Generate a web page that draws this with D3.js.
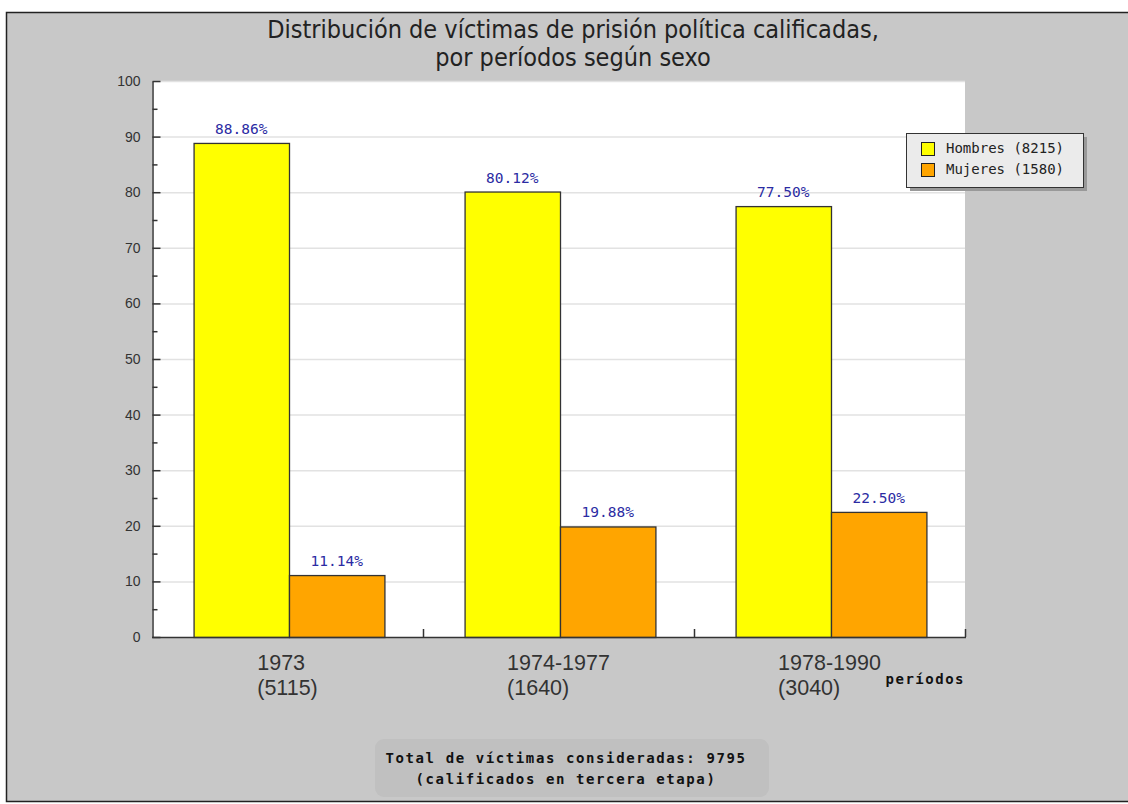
<!DOCTYPE html>
<html>
<head>
<meta charset="utf-8">
<script src="https://cdn.jsdelivr.net/npm/d3@7"></script>
<style>
  body { margin: 0; background: #fff; }
  svg { display: block; }
</style>
</head>
<body>
<div id="chart"></div>
<script>
// data
var periodos = ["1973", "1974-1977", "1978-1990"];
var totales = ["(5115)", "(1640)", "(3040)"];
var series = ["Hombres", "Mujeres"];
var leyenda = ["Hombres (8215)", "Mujeres (1580)"];
var hombres = [88.86, 80.12, 77.50];
var mujeres = [11.14, 19.88, 22.50];
var yTicks = [0, 10, 20, 30, 40, 50, 60, 70, 80, 90, 100];
var yMinor = [5, 15, 25, 35, 45, 55, 65, 75, 85, 95];

var W = 1128, H = 804;
var plot = { left: 152, right: 965, top: 81, bottom: 637 };
var colors = { Hombres: "#ffff00", Mujeres: "#ffa500" };
var mono = "'DejaVu Sans Mono', monospace";

var svg = d3.select("#chart").append("svg")
    .attr("width", W)
    .attr("height", H);

// outer frame
svg.append("rect")
    .attr("x", 6.5).attr("y", 12.5)
    .attr("width", 1200).attr("height", 789)
    .style("fill", "#c8c8c8")
    .style("stroke", "#222")
    .style("stroke-width", 1.5);

// title
var title = svg.append("text")
    .attr("text-anchor", "middle")
    .style("font-family", "'DejaVu Sans Condensed', 'DejaVu Sans', sans-serif")
    .style("font-size", "25px")
    .style("fill", "#222");
title.append("tspan").attr("x", 573).attr("y", 38)
    .text("Distribución de víctimas de prisión política calificadas,");
title.append("tspan").attr("x", 573).attr("y", 66)
    .text("por períodos según sexo");

// scales
var x = d3.scaleBand()
    .domain(periodos)
    .range([plot.left, plot.right])
    .paddingInner(0).paddingOuter(0);

var xs = d3.scaleBand()
    .domain(series)
    .range([0, x.bandwidth()])
    .paddingInner(0)
    .paddingOuter(0.42);

var y = d3.scaleLinear()
    .domain([0, 100])
    .range([plot.bottom, plot.top]);

// plot background
svg.append("rect")
    .attr("x", plot.left).attr("y", plot.top)
    .attr("width", plot.right - plot.left)
    .attr("height", plot.bottom - plot.top)
    .style("fill", "#fff");

// grid lines
svg.selectAll(".grid")
    .data(yTicks.filter(function (d) { return d > 0; }))
    .enter()
    .append("line")
    .attr("x1", plot.left).attr("x2", plot.right)
    .attr("y1", function (d) { return y(d) + 0.5; })
    .attr("y2", function (d) { return y(d) + 0.5; })
    .style("stroke", "#e2e2e2")
    .style("stroke-width", 1.5);

// bars
var rows = periodos.map(function (p, i) {
    return { periodo: p, Hombres: hombres[i], Mujeres: mujeres[i] };
});

var groups = svg.selectAll(".grupo")
    .data(rows)
    .enter()
    .append("g")
    .attr("transform", function (d) { return "translate(" + (x(d.periodo) + 1.5) + ",0)"; });

groups.selectAll("rect")
    .data(function (d) { return series.map(function (s) { return { key: s, value: d[s] }; }); })
    .enter()
    .append("rect")
    .attr("x", function (d) { return xs(d.key) + 0.5; })
    .attr("y", function (d) { return y(d.value) + 0.5; })
    .attr("width", xs.bandwidth())
    .attr("height", function (d) { return y(0) - y(d.value); })
    .style("fill", function (d) { return colors[d.key]; })
    .style("stroke", "#333")
    .style("stroke-width", 1.3);

groups.selectAll(".valor")
    .data(function (d) { return series.map(function (s) { return { key: s, value: d[s] }; }); })
    .enter()
    .append("text")
    .attr("text-anchor", "middle")
    .attr("x", function (d) { return xs(d.key) + xs.bandwidth() / 2; })
    .attr("y", function (d) { return y(d.value) - 9; })
    .style("font-family", mono)
    .style("font-size", "14.5px")
    .style("fill", "#2b2ba3")
    .text(function (d) { return d.value.toFixed(2) + "%"; });

// y axis
var yAxis = svg.append("g")
    .attr("transform", "translate(" + (plot.left + 0.5) + ",0)")
    .call(d3.axisLeft(y).tickValues(yTicks).tickSizeInner(-8).tickSizeOuter(0).tickPadding(12));
yAxis.select(".domain").style("stroke", "#333").style("stroke-width", 1.5);
yAxis.selectAll(".tick line").style("stroke", "#333").style("stroke-width", 1.5);
yAxis.selectAll(".tick text")
    .style("font-family", "'Liberation Sans', Arial, sans-serif")
    .style("font-size", "14px")
    .style("fill", "#333");

var yMinorAxis = svg.append("g")
    .attr("transform", "translate(" + (plot.left + 0.5) + ",0)")
    .call(d3.axisLeft(y).tickValues(yMinor).tickSizeInner(-5).tickSizeOuter(0).tickFormat(""));
yMinorAxis.select(".domain").remove();
yMinorAxis.selectAll(".tick line").style("stroke", "#333").style("stroke-width", 1.5);

// x axis baseline + ticks at category boundaries
svg.append("line")
    .attr("x1", plot.left).attr("x2", plot.right + 1)
    .attr("y1", plot.bottom + 0.5).attr("y2", plot.bottom + 0.5)
    .style("stroke", "#333").style("stroke-width", 1.5);

svg.selectAll(".xtick")
    .data(periodos)
    .enter()
    .append("line")
    .attr("x1", function (d) { return x(d) + x.step() + 0.5; })
    .attr("x2", function (d) { return x(d) + x.step() + 0.5; })
    .attr("y1", plot.bottom - 8).attr("y2", plot.bottom)
    .style("stroke", "#333").style("stroke-width", 1.5);

// category labels (two lines, left aligned, block centred)
periodos.forEach(function (p, i) {
    var t = svg.append("text")
        .style("font-family", "'Liberation Sans', Arial, sans-serif")
        .style("font-size", "21.5px")
        .style("fill", "#333");
    var a = t.append("tspan").attr("y", 670).text(p);
    var b = t.append("tspan").attr("y", 695).text(totales[i]);
    var w = Math.max(a.node().getComputedTextLength(), b.node().getComputedTextLength());
    var x0 = x(p) + x.bandwidth() / 2 - w / 2;
    a.attr("x", x0);
    b.attr("x", x0);
});

svg.append("text")
    .attr("x", plot.right)
    .attr("y", 684)
    .attr("text-anchor", "end")
    .style("font-family", mono)
    .style("font-weight", "bold")
    .style("font-size", "14px")
    .style("letter-spacing", "1.5px")
    .style("fill", "#111")
    .text("períodos");

// legend
var lg = svg.append("g").attr("transform", "translate(906,133)");
lg.append("rect")
    .attr("x", 4).attr("y", 4)
    .attr("width", 177).attr("height", 54)
    .style("fill", "#999");
lg.append("rect")
    .attr("x", 0.5).attr("y", 0.5)
    .attr("width", 177).attr("height", 54)
    .style("fill", "#ebebeb")
    .style("stroke", "#333");

series.forEach(function (s, i) {
    lg.append("rect")
        .attr("x", 15.5).attr("y", 9.5 + i * 21)
        .attr("width", 13).attr("height", 13)
        .style("fill", colors[s])
        .style("stroke", "#222");
    lg.append("text")
        .attr("x", 40)
        .attr("y", 20 + i * 21)
        .style("font-family", mono)
        .style("font-size", "14px")
        .style("fill", "#222")
        .text(leyenda[i]);
});

// footer note
svg.append("rect")
    .attr("x", 375).attr("y", 739)
    .attr("width", 394).attr("height", 58)
    .attr("rx", 9)
    .style("fill", "#c0c0c0");

var nota = svg.append("text")
    .attr("text-anchor", "middle")
    .style("font-family", mono)
    .style("font-weight", "bold")
    .style("font-size", "14px")
    .style("letter-spacing", "1.6px")
    .style("fill", "#111");
nota.append("tspan").attr("x", 566).attr("y", 763).text("Total de víctimas consideradas: 9795");
nota.append("tspan").attr("x", 566).attr("y", 784).text("(calificados en tercera etapa)");
</script>
</body>
</html>
